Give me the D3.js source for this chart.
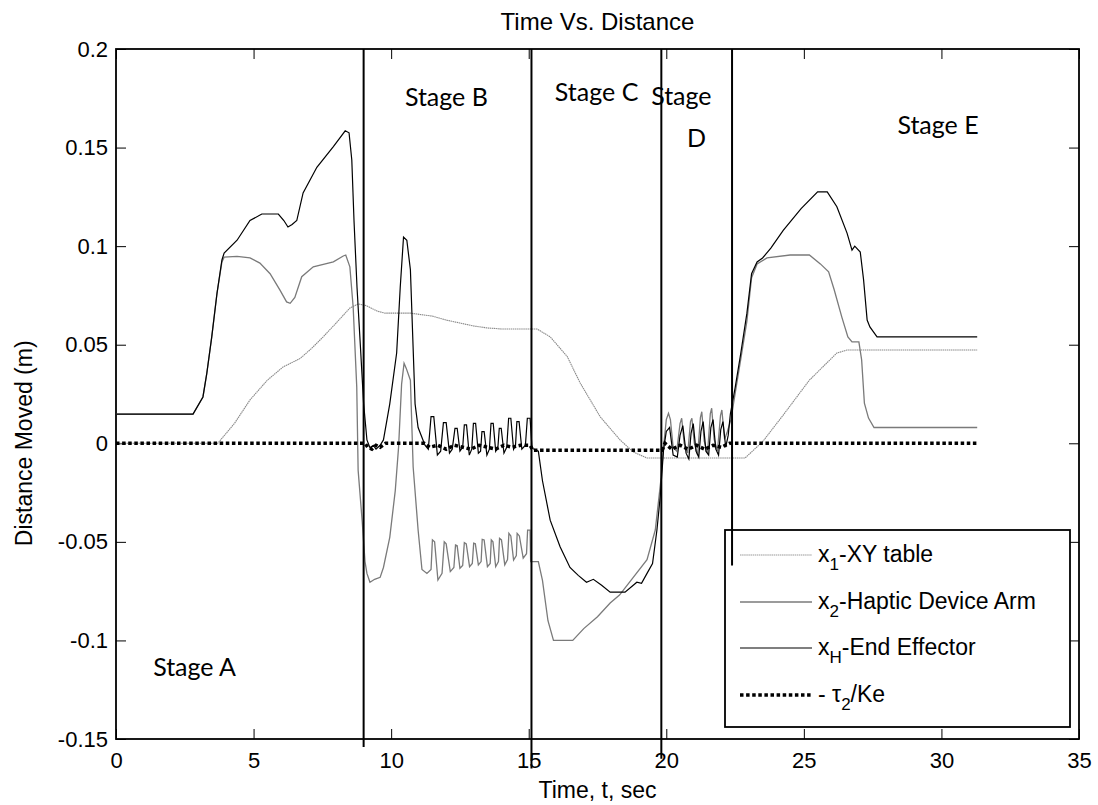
<!DOCTYPE html>
<html>
<head>
<meta charset="utf-8">
<script src="https://cdn.jsdelivr.net/npm/d3@7"></script>
<style>
  html, body { margin: 0; padding: 0; background: #fff; }
  svg { display: block; }
  .ax text { font-family: "Liberation Sans", Arial, sans-serif; font-size: 22px; fill: #000; }
</style>
</head>
<body>
<svg id="chart" width="1098" height="805"></svg>
<script>
// ---------- DATA ----------
const xTicks = [0, 5, 10, 15, 20, 25, 30, 35];
const yTicks = [-0.15, -0.1, -0.05, 0, 0.05, 0.1, 0.15, 0.2];
const yTickLabels = ["-0.15", "-0.1", "-0.05", "0", "0.05", "0.1", "0.15", "0.2"];

const seriesNames = ["x1-XY table", "x2-Haptic Device Arm", "xH-End Effector", "- τ2/Ke"];

// x1 - XY table [t, value]
const x1Data = [
  [0,0],[3.7,0],[4.3,0.01],[4.87,0.022],[5.5,0.032],[6.07,0.0387],[6.69,0.043],[7.1,0.048],
  [7.53,0.054],[8.0,0.061],[8.5,0.0686],[8.8,0.0707],[9.1,0.0698],[9.5,0.067],[9.78,0.066],
  [10.7,0.066],[11.5,0.0645],[12.0,0.0625],[12.5,0.061],[13.0,0.0595],[13.5,0.0585],[14.0,0.058],
  [15.3,0.058],[15.78,0.054],[16.4,0.044],[16.87,0.0306],[17.6,0.0134],[18.32,0.0017],[18.8,-0.0044],
  [19.3,-0.0075],[22.86,-0.0075],[23.5,0.0008],[24.2,0.0134],[25.2,0.032],[26.2,0.0458],[26.57,0.0473],
  [31.3,0.0473]
];

// x2 - Haptic Device Arm [t, value]
const x2Data = [
  [0,0.0148],[2.8,0.0148],[3.16,0.0235],[3.3,0.0355],[3.48,0.054],[3.67,0.076],[3.85,0.092],[3.93,0.0944],
  [4.4,0.0948],[4.87,0.094],[5.23,0.0914],[5.6,0.086],[5.96,0.0777],[6.2,0.0717],[6.33,0.071],[6.5,0.074],
  [6.75,0.0845],[7.17,0.0895],[7.9,0.092],[8.26,0.095],[8.35,0.0955],[8.5,0.0895],[8.62,0.069],[8.75,0.0286],
  [8.8,-0.0136],[8.95,-0.04],[9.05,-0.06],[9.12,-0.066],[9.23,-0.0705],[9.4,-0.069],[9.6,-0.068],[9.72,-0.063],
  [9.95,-0.0477],[10.15,-0.024],[10.27,-0.002],[10.38,0.03],[10.47,0.0406],[10.55,0.038],[10.7,0.032],
  [10.8,-0.012],[10.98,-0.044],[11.12,-0.064],[11.3,-0.066],
  [11.45,-0.064],[11.5,-0.049],[11.58,-0.05],[11.7,-0.0694],[11.85,-0.066],[11.93,-0.05],[12.0,-0.051],
  [12.15,-0.0651],[12.28,-0.063],[12.34,-0.0516],[12.4,-0.052],[12.5,-0.0634],[12.6,-0.062],[12.66,-0.0504],
  [12.73,-0.051],[12.85,-0.0626],[12.95,-0.061],[13.0,-0.0507],[13.06,-0.051],[13.17,-0.0617],[13.27,-0.06],
  [13.31,-0.0487],[13.38,-0.049],[13.5,-0.0626],[13.6,-0.061],[13.64,-0.049],[13.7,-0.05],[13.8,-0.0626],
  [13.9,-0.06],[13.94,-0.0482],[14.01,-0.049],[14.13,-0.0617],[14.23,-0.059],[14.28,-0.0457],[14.35,-0.047],
  [14.45,-0.0592],[14.55,-0.057],[14.58,-0.0457],[14.66,-0.047],[14.8,-0.0583],[14.92,-0.056],[14.96,-0.044],
  [15.05,-0.044],[15.07,-0.06],[15.35,-0.06],[15.5,-0.0695],[15.7,-0.09],[15.9,-0.1],[16.6,-0.1],[17.0,-0.094],
  [17.5,-0.088],[17.96,-0.081],[18.3,-0.077],[18.8,-0.068],[19.3,-0.059],[19.6,-0.044],[19.8,-0.019],[19.9,-0.002],
  [20.0,0.012],[20.08,0.0152],[20.15,0.012],[20.25,-0.002],[20.38,-0.004],[20.5,0.01],[20.56,0.0127],[20.65,0.0],
  [20.78,-0.005],[20.88,0.011],[20.93,0.0127],[21.02,0.0],[21.14,-0.006],[21.24,0.013],[21.29,0.016],[21.38,0.001],
  [21.5,-0.005],[21.6,0.015],[21.65,0.0178],[21.74,0.002],[21.86,-0.004],[21.97,0.014],[22.02,0.0169],[22.12,0.002],
  [22.22,0.006],[22.35,0.012],[22.5,0.025],[22.7,0.042],[22.93,0.062],[23.1,0.084],[23.3,0.091],[23.66,0.094],
  [24.5,0.0955],[25.2,0.0955],[25.6,0.091],[25.9,0.087],[26.1,0.078],[26.38,0.064],[26.6,0.054],[26.75,0.0514],
  [27.0,0.0514],[27.1,0.0423],[27.2,0.0204],[27.35,0.0128],[27.55,0.008],[31.3,0.008]
];

// xH - End Effector [t, value]
const xHData = [
  [0,0.0148],[2.8,0.0148],[3.16,0.0235],[3.3,0.0355],[3.48,0.054],[3.67,0.076],[3.85,0.093],[3.93,0.0965],
  [4.4,0.103],[4.87,0.113],[5.3,0.1163],[5.9,0.1163],[6.1,0.113],[6.25,0.1097],[6.4,0.111],[6.57,0.113],
  [6.8,0.127],[7.3,0.140],[7.9,0.1505],[8.33,0.1585],[8.47,0.1575],[8.57,0.1437],[8.65,0.113],[8.76,0.079],
  [8.87,0.0524],[9.0,0.02],[9.12,0.0017],[9.23,-0.0023],[9.35,-0.001],[9.45,-0.003],[9.6,-0.001],[9.72,0.0017],
  [9.95,0.02],[10.2,0.0458],[10.33,0.079],[10.45,0.1046],[10.57,0.103],[10.7,0.088],[10.87,0.02],[10.98,0.008],
  [11.23,-0.001],
  [11.35,-0.003],[11.45,0.0135],[11.55,0.0135],[11.68,-0.006],[11.8,-0.004],[11.9,0.0105],[12.0,0.0105],
  [12.12,-0.005],[12.22,-0.003],[12.32,0.0076],[12.4,0.0076],[12.5,-0.004],[12.6,-0.002],[12.66,0.0093],
  [12.74,0.0093],[12.84,-0.006],[12.93,-0.003],[12.99,0.0101],[13.07,0.0101],[13.17,-0.005],[13.25,-0.004],
  [13.3,0.0059],[13.38,0.0059],[13.48,-0.006],[13.57,-0.003],[13.63,0.0101],[13.71,0.0101],[13.8,-0.004],
  [13.88,-0.002],[13.93,0.0076],[14.0,0.0076],[14.1,-0.005],[14.2,-0.002],[14.27,0.0127],[14.35,0.0127],
  [14.45,-0.003],[14.52,-0.001],[14.57,0.011],[14.65,0.011],[14.75,-0.003],[14.88,-0.001],[14.95,0.0127],
  [15.05,0.0127],
  [15.12,-0.0025],[15.35,-0.004],[15.5,-0.019],[15.78,-0.039],[16.14,-0.0525],[16.5,-0.063],[16.8,-0.067],
  [17.1,-0.0705],[17.35,-0.069],[17.65,-0.072],[17.96,-0.0755],[18.5,-0.0755],[18.93,-0.0705],[19.1,-0.071],
  [19.3,-0.066],[19.5,-0.061],[19.66,-0.044],[19.78,-0.027],[19.9,-0.0035],
  [20.0,0.006],[20.12,0.008],[20.25,-0.006],[20.4,-0.007],[20.5,0.004],[20.6,0.009],[20.72,-0.005],[20.82,-0.008],
  [20.9,0.005],[20.98,0.01],[21.08,-0.004],[21.18,-0.007],[21.26,0.006],[21.34,0.011],[21.44,-0.004],[21.54,-0.006],
  [21.62,0.008],[21.7,0.012],[21.8,-0.003],[21.9,-0.006],[21.98,0.007],[22.06,0.011],[22.16,-0.002],[22.25,0.004],
  [22.33,0.015],[22.5,0.028],[22.7,0.045],[22.93,0.066],[23.1,0.086],[23.3,0.092],[23.5,0.094],[23.8,0.099],
  [24.25,0.108],[24.9,0.119],[25.5,0.1275],[25.85,0.1275],[26.2,0.12],[26.57,0.1066],[26.75,0.098],[26.85,0.1],
  [27.05,0.097],[27.17,0.083],[27.3,0.0625],[27.4,0.059],[27.66,0.054],[31.3,0.054]
];

// -tau2/Ke [t, value]
const tauData = [
  [0,0],[9.05,0],[9.15,-0.002],[9.3,-0.003],[9.45,-0.001],[9.6,-0.002],[9.8,0],[11.2,0],[11.4,-0.002],
  [11.7,-0.001],[12.0,-0.003],[12.3,-0.001],[12.6,-0.002],[12.9,-0.003],[13.2,-0.001],[13.5,-0.002],
  [13.8,-0.003],[14.1,-0.001],[14.4,-0.002],[14.7,-0.001],[15.05,-0.001],[15.15,-0.0035],[19.85,-0.0035],
  [19.95,0],[20.2,-0.003],[20.5,-0.001],[20.8,-0.003],[21.1,-0.001],[21.4,-0.003],[21.7,-0.001],[22.0,-0.002],
  [22.3,0],[31.3,0]
];

// Stage divider lines: time, top value, bottom value
const stageLineT = [9.0, 15.1, 19.82, 22.39];
const stageLineTop = [0.2, 0.2, 0.2, 0.2];
const stageLineBottom = [-0.154, -0.165, -0.16, -0.062];

// Stage labels
const stageLabels = ["Stage A", "Stage B", "Stage C", "Stage", "D", "Stage E"];
const stageLabelT = [1.35, 10.5, 15.95, 19.45, 21.1, 28.4];
const stageLabelV = [-0.118, 0.171, 0.1735, 0.1715, 0.1505, 0.157];

// ---------- LAYOUT ----------
const svg = d3.select("#chart");
const L = 116, R = 1079, T = 49, B = 739;
const x = d3.scaleLinear().domain([0, 35]).range([L, R]);
const y = d3.scaleLinear().domain([-0.15, 0.2]).range([B, T]);
const FONT = '"Liberation Sans", Arial, sans-serif';

// Axes (ticks inward, MATLAB style)
svg.append("g").attr("class", "ax").attr("transform", `translate(0,${B})`)
  .call(d3.axisBottom(x).tickValues(xTicks).tickSize(-10).tickSizeOuter(0).tickPadding(13).tickFormat(d3.format("d")));
svg.append("g").attr("class", "ax").attr("transform", `translate(${L},0)`)
  .call(d3.axisLeft(y).tickValues(yTicks).tickSize(-10).tickSizeOuter(0).tickPadding(8)
    .tickFormat((d, i) => yTickLabels[i]));
svg.append("g").attr("class", "ax").attr("transform", `translate(0,${T})`)
  .call(d3.axisTop(x).tickValues(xTicks).tickSize(-10).tickSizeOuter(0).tickFormat(""));
svg.append("g").attr("class", "ax").attr("transform", `translate(${R},0)`)
  .call(d3.axisRight(y).tickValues(yTicks).tickSize(-10).tickSizeOuter(0).tickFormat(""));
svg.selectAll(".ax .domain").remove();
svg.selectAll(".ax .tick line").attr("stroke", "#000").attr("stroke-width", 1);

// box
svg.append("rect").attr("x", L).attr("y", T).attr("width", R - L).attr("height", B - T)
  .attr("fill", "none").attr("stroke", "#000").attr("stroke-width", 1.8);

// Lines
const line = d3.line().x(d => x(d[0])).y(d => y(d[1]));
svg.append("path").datum(x1Data).attr("d", line).attr("fill", "none")
  .attr("stroke", "#8a8a8a").attr("stroke-width", 1.1).attr("stroke-dasharray", "1.5,0.6");
svg.append("path").datum(x2Data).attr("d", line).attr("fill", "none")
  .attr("stroke", "#7a7a7a").attr("stroke-width", 1.3);
svg.append("path").datum(xHData).attr("d", line).attr("fill", "none")
  .attr("stroke", "#000").attr("stroke-width", 1.2);
svg.append("path").datum(tauData).attr("d", line).attr("fill", "none")
  .attr("stroke", "#000").attr("stroke-width", 3.5).attr("stroke-dasharray", "3.5,2.6");

// Stage lines
svg.selectAll(".stageline").data(stageLineT).enter().append("line")
  .attr("x1", d => x(d)).attr("x2", d => x(d))
  .attr("y1", (d, i) => y(stageLineTop[i])).attr("y2", (d, i) => y(stageLineBottom[i]))
  .attr("stroke", "#000").attr("stroke-width", 2);

// Stage labels
svg.selectAll(".stagelabel").data(stageLabels).enter().append("text")
  .attr("x", (d, i) => x(stageLabelT[i])).attr("y", (d, i) => y(stageLabelV[i]))
  .attr("text-anchor", (d, i) => i === 4 ? "middle" : "start")
  .attr("font-family", "Lato, 'Open Sans', sans-serif").attr("font-size", 25).attr("fill", "#000")
  .text(d => d);

// Title & axis labels
svg.append("text").attr("x", (L + R) / 2).attr("y", 30).attr("text-anchor", "middle")
  .attr("font-family", FONT).attr("font-size", 24).text("Time Vs. Distance");
svg.append("text").attr("x", (L + R) / 2).attr("y", 798).attr("text-anchor", "middle")
  .attr("font-family", FONT).attr("font-size", 23).text("Time, t, sec");
svg.append("text").attr("transform", `translate(32,${y(0)}) rotate(-90)`).attr("text-anchor", "middle")
  .attr("font-family", FONT).attr("font-size", 23).text("Distance Moved (m)");

// Legend
const lg = svg.append("g");
lg.append("rect").attr("x", 725).attr("y", 530).attr("width", 345).attr("height", 197)
  .attr("fill", "#fff").attr("stroke", "#000").attr("stroke-width", 1.8);
const legStyles = [
  { stroke: "#999", w: 1.1, dash: "1.5,0.6" },
  { stroke: "#7a7a7a", w: 1.3, dash: null },
  { stroke: "#000", w: 1.2, dash: null },
  { stroke: "#000", w: 3.5, dash: "3.5,2.6" }
];
const legY = [555, 602, 648, 695];
const legMain = ["x", "x", "x", "- τ"];
const legSub = ["1", "2", "H", "2"];
const legRest = ["-XY table", "-Haptic Device Arm", "-End Effector", "/Ke"];
seriesNames.forEach((n, i) => {
  const s = legStyles[i];
  const l = lg.append("line").attr("x1", 740).attr("x2", 812).attr("y1", legY[i]).attr("y2", legY[i])
    .attr("stroke", s.stroke).attr("stroke-width", s.w);
  if (s.dash) l.attr("stroke-dasharray", s.dash);
  const t = lg.append("text").attr("x", 818).attr("y", legY[i] + 7)
    .attr("font-family", FONT).attr("font-size", 23).attr("fill", "#000");
  t.append("tspan").text(legMain[i]);
  t.append("tspan").attr("font-size", 17).attr("dy", 8).text(legSub[i]);
  t.append("tspan").attr("dy", -8).text(legRest[i]);
});
// stage line 4 overlaps legend top
svg.append("line").attr("x1", x(stageLineT[3])).attr("x2", x(stageLineT[3]))
  .attr("y1", 530).attr("y2", y(stageLineBottom[3])).attr("stroke", "#000").attr("stroke-width", 2);
</script>
</body>
</html>
